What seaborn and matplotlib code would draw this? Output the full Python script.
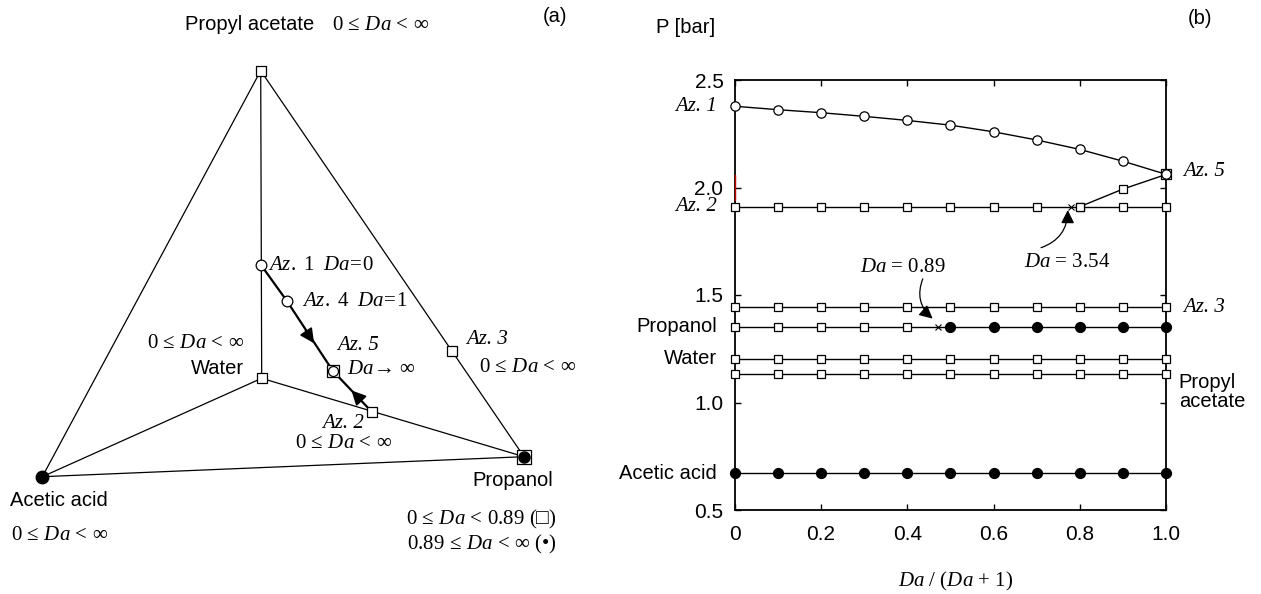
import matplotlib
matplotlib.use("Agg")
import matplotlib.pyplot as plt
import seaborn as sns

# ---------------- data ----------------
# (b) azeotrope / pure-component pressures versus Da/(Da+1)
x_ratio = [0.0, 0.1, 0.2, 0.3, 0.4, 0.5, 0.6, 0.7, 0.8, 0.9, 1.0]
p_az1 = [2.378, 2.362, 2.348, 2.331, 2.312, 2.290, 2.259, 2.221, 2.177, 2.122, 2.061]
p_az2 = [1.911, 1.911, 1.911, 1.911, 1.911, 1.911, 1.911, 1.911, 1.911, 1.911, 1.911]
x_az5_branch = [0.8, 0.9, 1.0]
p_az5_branch = [1.911, 1.993, 2.061]
p_az3 = [1.443, 1.443, 1.443, 1.443, 1.443, 1.443, 1.443, 1.443, 1.443, 1.443, 1.443]
p_propanol = [1.353, 1.353, 1.353, 1.353, 1.353, 1.353, 1.353, 1.353, 1.353, 1.353, 1.353]
p_water = [1.201, 1.201, 1.201, 1.201, 1.201, 1.201, 1.201, 1.201, 1.201, 1.201, 1.201]
p_propyl_acetate = [1.131, 1.131, 1.131, 1.131, 1.131, 1.131, 1.131, 1.131, 1.131, 1.131, 1.131]
p_acetic_acid = [0.671, 0.671, 0.671, 0.671, 0.671, 0.671, 0.671, 0.671, 0.671, 0.671, 0.671]
da_bifurcation = [0.89, 3.54]
y_ticks = [0.5, 1.0, 1.5, 2.0, 2.5]
y_tick_labels = ["0.5", "1.0", "1.5", "2.0", "2.5"]
x_ticks = [0.0, 0.2, 0.4, 0.6, 0.8, 1.0]
x_tick_labels = ["0", "0.2", "0.4", "0.6", "0.8", "1.0"]

# (a) projected tetrahedron (drawing coordinates)
v_propyl_acetate = (260.7, 70.7)
v_water = (261.7, 378.3)
v_acetic_acid = (42.3, 476.7)
v_propanol = (524.0, 456.7)
pt_az1 = (261.0, 265.0)
pt_az4 = (286.7, 300.7)
pt_az5 = (332.7, 370.7)
pt_az2 = (371.7, 411.7)
pt_az3 = (451.7, 351.0)

# ---------------- style ----------------
sns.set_theme(style="ticks")
plt.rcParams.update({
    "font.family": ["Liberation Sans", "DejaVu Sans"],
    "mathtext.fontset": "custom",
    "mathtext.rm": "Liberation Serif",
    "mathtext.it": "Liberation Serif:italic",
    "mathtext.bf": "Liberation Serif:bold",
    "axes.edgecolor": "black",
    "xtick.color": "black",
    "ytick.color": "black",
    "text.color": "black",
})
SANS = 14.5
SERIF = 15
serif = ["Liberation Serif", "DejaVu Serif"]

fig = plt.figure(figsize=(12.61, 5.94), dpi=100)
fig.patch.set_facecolor("white")

# ================= panel (a) =================
axL = fig.add_axes([0, 0, 600 / 1261, 1])
axL.set_xlim(0, 600)
axL.set_ylim(594, 0)
axL.axis("off")

edges = [
    (v_propyl_acetate, v_acetic_acid),
    (v_propyl_acetate, v_water),
    (v_propyl_acetate, v_propanol),
    (v_water, v_acetic_acid),
    (v_water, v_propanol),
    (v_acetic_acid, v_propanol),
]
for a, b in edges:
    axL.plot([a[0], b[0]], [a[1], b[1]], color="black", lw=0.9, zorder=1)

# paths of the reactive azeotrope towards Az. 5
axL.plot([pt_az1[0], pt_az4[0], pt_az5[0]], [pt_az1[1], pt_az4[1], pt_az5[1]],
         color="black", lw=1.6, zorder=2)
axL.plot([pt_az2[0], pt_az5[0]], [pt_az2[1], pt_az5[1]], color="black", lw=1.6, zorder=2)


def head(ax, p0, p1, frac):
    x = p0[0] + (p1[0] - p0[0]) * frac
    y = p0[1] + (p1[1] - p0[1]) * frac
    dx, dy = (p1[0] - p0[0]) * 0.12, (p1[1] - p0[1]) * 0.12
    ax.annotate("", xy=(x, y), xytext=(x - dx, y - dy),
                arrowprops=dict(arrowstyle="-|>", color="black", lw=1.2,
                                mutation_scale=22, shrinkA=0, shrinkB=0), zorder=3)


head(axL, pt_az1, pt_az5, 0.74)
head(axL, pt_az2, pt_az5, 0.52)

sq = dict(marker="s", mfc="white", mec="black", mew=0.9, ls="none", zorder=4)
ci = dict(marker="o", mfc="white", mec="black", mew=0.9, ls="none", zorder=5)
for p in (v_propyl_acetate, v_water, pt_az2, pt_az3):
    axL.plot(*p, ms=7, **sq)
for p in (pt_az1, pt_az4):
    axL.plot(*p, ms=7.7, **ci)
axL.plot(*pt_az5, ms=8.8, **sq)
axL.plot(*pt_az5, ms=7.2, **ci)
axL.plot(*v_propanol, ms=9.9, **sq)
axL.plot(*v_propanol, marker="o", ms=8.0, color="black", ls="none", zorder=5)
axL.plot(*v_acetic_acid, marker="o", ms=9.0, color="black", ls="none", zorder=5)

rng = r"$0\,\leq\,Da\,<\,\infty$"
axL.text(555, 17, "(a)", fontsize=SANS, ha="center", va="center")
axL.text(250, 25, "Propyl acetate", fontsize=SANS, ha="center", va="center")
axL.text(332, 25, rng, fontsize=SERIF, ha="left", va="center")
axL.text(268, 265, r"$\mathit{Az.\ 1}\ \ Da\!=\!0$", fontsize=SERIF, ha="left", va="center")
axL.text(302, 300, r"$\mathit{Az.\ 4}\ \ Da\!=\!1$", fontsize=SERIF, ha="left", va="center")
axL.text(337, 345, "Az. 5", fontsize=SERIF, family=serif, style="italic", ha="left", va="center")
axL.text(347, 368, r"$Da\!\rightarrow\,\infty$", fontsize=SERIF, ha="left", va="center")
axL.text(244, 343, rng, fontsize=SERIF, ha="right", va="center")
axL.text(244, 369, "Water", fontsize=SANS, ha="right", va="center")
axL.text(322, 423, "Az. 2", fontsize=SERIF, family=serif, style="italic", ha="left", va="center")
axL.text(295, 443, rng, fontsize=SERIF, ha="left", va="center")
axL.text(466, 340, "Az. 3", fontsize=SERIF, family=serif, style="italic", ha="left", va="center")
axL.text(479, 366, rng, fontsize=SERIF, ha="left", va="center")
axL.text(59, 501, "Acetic acid", fontsize=SANS, ha="center", va="center")
axL.text(60, 535, rng, fontsize=SERIF, ha="center", va="center")
axL.text(513, 481, "Propanol", fontsize=SANS, ha="center", va="center")
axL.text(481, 519, r"$0\,\leq\,Da\,<\,0.89$ (" + "\u25a1" + ")", fontsize=SERIF,
         family=["Liberation Serif", "DejaVu Sans"], ha="center", va="center")
axL.text(482, 544, r"$0.89\,\leq\,Da\,<\,\infty$ (" + "\u2022" + ")", fontsize=SERIF,
         family=serif, ha="center", va="center")

# ================= panel (b) =================
ax = fig.add_axes([734.5 / 1261, 84 / 594, 431.8 / 1261, 430 / 594])
ax.set_xlim(0, 1)
ax.set_ylim(0.5, 2.5)

line_kw = dict(color="black", lw=1.0, estimator=None, sort=False, ax=ax, legend=False)
sq_b = dict(marker="s", markersize=5.8, markerfacecolor="white", markeredgecolor="black",
            markeredgewidth=0.9, clip_on=False)
ci_b = dict(marker="o", markersize=6.7, markerfacecolor="white", markeredgecolor="black",
            markeredgewidth=0.9, clip_on=False)
dot_b = dict(marker="o", markersize=7.3, markerfacecolor="black", markeredgecolor="black",
             clip_on=False)

sns.lineplot(x=x_ratio, y=p_az1, zorder=4, **ci_b, **line_kw)
sns.lineplot(x=x_ratio, y=p_az2, zorder=3, **sq_b, **line_kw)
sns.lineplot(x=x_az5_branch, y=p_az5_branch, zorder=3, **sq_b, **line_kw)
sns.lineplot(x=x_ratio, y=p_az3, zorder=3, **sq_b, **line_kw)
sns.lineplot(x=x_ratio, y=p_water, zorder=3, **sq_b, **line_kw)
sns.lineplot(x=x_ratio, y=p_propyl_acetate, zorder=3, **sq_b, **line_kw)
sns.lineplot(x=x_ratio, y=p_acetic_acid, zorder=3, **dot_b, **line_kw)

# Az. 5: square framing the circle where both branches meet
ax.plot([x_az5_branch[-1]], [p_az5_branch[-1]], marker="s", ms=7.9, mfc="white",
        mec="black", mew=0.9, clip_on=False, zorder=3.5)

# propanol: open squares below Da = 0.89, filled circles above
x_cut_propanol = da_bifurcation[0] / (da_bifurcation[0] + 1)
x_cut_az5 = da_bifurcation[1] / (da_bifurcation[1] + 1)
sns.lineplot(x=x_ratio, y=p_propanol, zorder=2, **line_kw)
xs_lo = [x for x in x_ratio if x < x_cut_propanol]
xs_hi = [x for x in x_ratio if x > x_cut_propanol]
sns.lineplot(x=xs_lo, y=p_propanol[:len(xs_lo)], linestyle="none", zorder=3, **sq_b, **line_kw)
sns.lineplot(x=xs_hi, y=p_propanol[len(xs_lo):], linestyle="none", zorder=3, **dot_b, **line_kw)

# bifurcation points
ax.plot([x_cut_propanol], [p_propanol[0]], marker="x", ms=4, mew=0.8, color="black", zorder=5)
ax.plot([x_cut_az5], [p_az2[0]], marker="x", ms=4, mew=0.8, color="black", zorder=5)
ax.plot([0, 0], [1.942, 2.058], color="#c00000", lw=1.0, clip_on=False, zorder=6)

ax.set_yticks(y_ticks, y_tick_labels)
ax.set_xticks(x_ticks, x_tick_labels)
ax.tick_params(direction="in", length=4, width=1, top=True, right=True,
               labeltop=False, labelright=False, labelsize=15)
ax.tick_params(axis="y", pad=8)
ax.tick_params(axis="x", pad=11)
for s in ax.spines.values():
    s.set_linewidth(1.3)
    s.set_color("black")
ax.grid(False)
ax.set_xlabel("")
ax.set_ylabel("")

# series labels on the left side
left_labels = [
    ("Az. 1", p_az1[0], True),
    ("Az. 2", p_az2[0], True),
    ("Propanol", p_propanol[0], False),
    ("Water", p_water[0] + 0.005, False),
    ("Acetic acid", p_acetic_acid[0], False),
]
for txt, yv, ital in left_labels:
    kw = dict(family=serif, style="italic", fontsize=SERIF) if ital else dict(fontsize=SANS)
    ax.annotate(txt, xy=(0, yv), xycoords=("axes fraction", "data"),
                xytext=(-12.5, 0), textcoords="offset points", ha="right", va="center", **kw)

# series labels on the right side
ax.annotate("Az. 5", xy=(1, p_az1[-1]), xycoords=("axes fraction", "data"),
            xytext=(12, 2), textcoords="offset points", ha="left", va="center",
            family=serif, style="italic", fontsize=SERIF)
ax.annotate("Az. 3", xy=(1, p_az3[-1]), xycoords=("axes fraction", "data"),
            xytext=(12, 0), textcoords="offset points", ha="left", va="center",
            family=serif, style="italic", fontsize=SERIF)
ax.annotate("Propyl\nacetate", xy=(1, p_propyl_acetate[-1]), xycoords=("axes fraction", "data"),
            xytext=(9, 1), textcoords="offset points", ha="left", va="top",
            fontsize=SANS, linespacing=1.0)

# bifurcation annotations
ax.annotate("", xy=(x_cut_propanol - 0.012, 1.39), xytext=(0.436, 1.575),
            arrowprops=dict(arrowstyle="-|>", color="black", lw=0.9, mutation_scale=20,
                            shrinkA=0, shrinkB=0, connectionstyle="arc3,rad=0.35"))
ax.text(0.389, 1.630, r"$Da$ = 0.89", family=serif, fontsize=SERIF, ha="center", va="center")
ax.annotate("", xy=(x_cut_az5 - 0.008, 1.895), xytext=(0.71, 1.72),
            arrowprops=dict(arrowstyle="-|>", color="black", lw=0.9, mutation_scale=20,
                            shrinkA=0, shrinkB=0, connectionstyle="arc3,rad=0.35"))
ax.text(0.771, 1.653, r"$Da$ = 3.54", family=serif, fontsize=SERIF, ha="center", va="center")

ax.text(-0.114, 1.121, "P [bar]", transform=ax.transAxes, fontsize=SANS, ha="center", va="center")
ax.text(1.078, 1.144, "(b)", transform=ax.transAxes, fontsize=SANS, ha="center", va="center")
ax.text(0.5125, -0.1667, r"$Da$ / ($Da$ + 1)", transform=ax.transAxes, family=serif,
        fontsize=SERIF, ha="center", va="center")

fig.savefig("out.png", dpi=100, facecolor="white")
